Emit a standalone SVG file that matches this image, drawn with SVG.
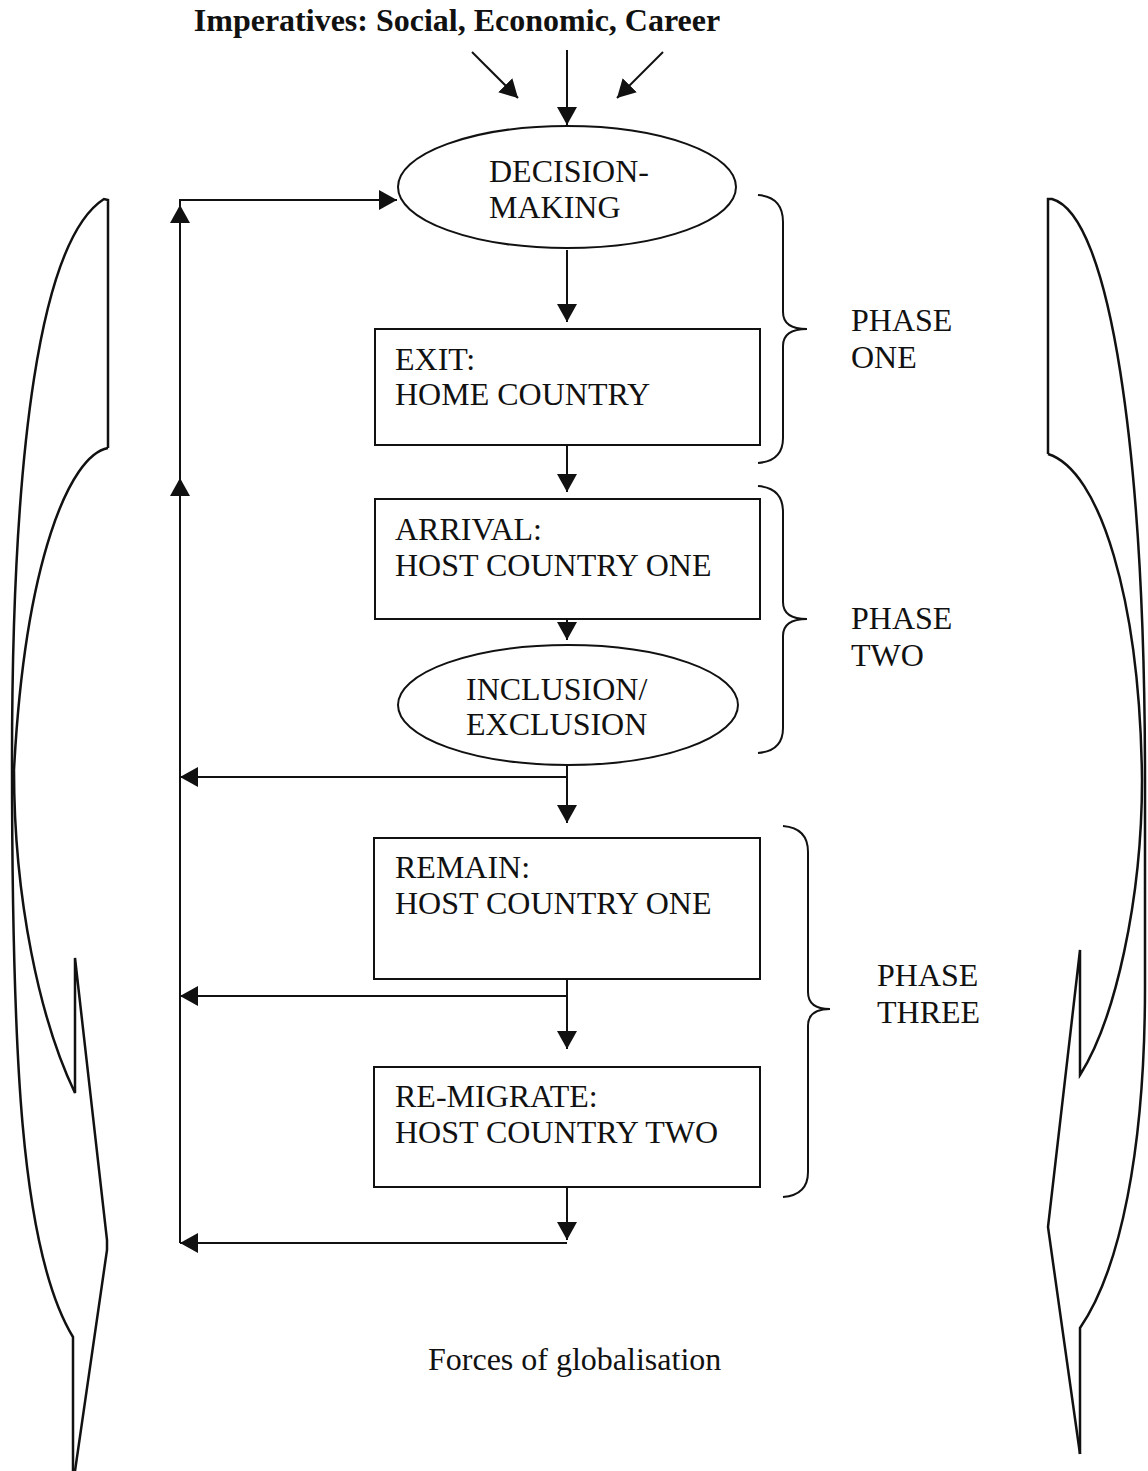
<svg xmlns="http://www.w3.org/2000/svg" width="1148" height="1471" viewBox="0 0 1148 1471">
<defs>
<marker id="ah" viewBox="0 0 18 20" refX="18" refY="10" markerWidth="18" markerHeight="20" markerUnits="userSpaceOnUse" orient="auto">
<path d="M0,0 L18,10 L0,20 z" fill="#111"/>
</marker>
<style>
.t{font-family:"Liberation Serif","Times New Roman",serif;font-size:32px;fill:#111}
.tb{font-family:"Liberation Serif","Times New Roman",serif;font-size:32px;font-weight:bold;fill:#111}
.box{fill:#fff;stroke:#111;stroke-width:2}
.ln{fill:none;stroke:#111;stroke-width:2}
.arr{fill:none;stroke:#111;stroke-width:2;marker-end:url(#ah)}
.side{fill:none;stroke:#111;stroke-width:2.5;stroke-linejoin:miter}
.br{fill:none;stroke:#111;stroke-width:2}
</style>
</defs>
<rect width="1148" height="1471" fill="#fff"/>

<g id="side-left">
<path class="side" d="M108,448 L108,200 L104,199 C40,240 12,450 12,760 C12,1050 20,1250 73,1337 L73,1471"/>
<path class="side" d="M108,448 C70,455 25,560 14,770 C14,900 40,1020 75,1093 L75,958 L107,1240 L107,1250 L75,1471"/>
</g>
<g id="side-right">
<path class="side" d="M1048,454 L1048,199 L1052,199 C1110,215 1145,450 1145,780 L1145,987 C1145,1150 1120,1270 1080,1328 L1080,1454"/>
<path class="side" d="M1048,454 C1100,470 1140,600 1142,780 C1142,900 1115,1020 1080,1075 L1080,950 L1048,1227 L1080,1454"/>
</g>

<g id="title">
<text class="tb" x="457" y="31" text-anchor="middle">Imperatives: Social, Economic, Career</text>
</g>

<g id="connectors">
<path class="arr" d="M472,52 L518,98"/>
<path class="arr" d="M567,50 L567,125"/>
<path class="arr" d="M663,52 L617,98"/>
<path class="arr" d="M567,250 L567,322"/>
<path class="arr" d="M567,445 L567,492"/>
<path class="arr" d="M567,619 L567,640"/>
<path class="arr" d="M567,765 L567,823"/>
<path class="arr" d="M567,777 L180,777"/>
<path class="arr" d="M567,979 L567,1049"/>
<path class="arr" d="M567,996 L180,996"/>
<path class="arr" d="M567,1187 L567,1240"/>
<path class="arr" d="M567,1243 L180,1243"/>
<path class="arr" d="M180,1243 L180,200 L397,200"/>
<path class="arr" d="M180,500 L180,478"/>
<path class="arr" d="M180,230 L180,205"/>
</g>

<g id="n-decision">
<ellipse class="box" cx="567" cy="187" rx="169" ry="61"/>
<text class="t" x="489" y="182">DECISION-</text>
<text class="t" x="489" y="218">MAKING</text>
</g>
<g id="n-exit">
<rect class="box" x="375" y="329" width="385" height="116"/>
<text class="t" x="395" y="370">EXIT:</text>
<text class="t" x="395" y="405">HOME COUNTRY</text>
</g>
<g id="n-arrival">
<rect class="box" x="375" y="499" width="385" height="120"/>
<text class="t" x="395" y="540">ARRIVAL:</text>
<text class="t" x="395" y="576">HOST COUNTRY ONE</text>
</g>
<g id="n-inclusion">
<ellipse class="box" cx="568" cy="705" rx="170" ry="60"/>
<text class="t" x="466" y="700">INCLUSION/</text>
<text class="t" x="466" y="735">EXCLUSION</text>
</g>
<g id="n-remain">
<rect class="box" x="374" y="838" width="386" height="141"/>
<text class="t" x="395" y="878">REMAIN:</text>
<text class="t" x="395" y="914">HOST COUNTRY ONE</text>
</g>
<g id="n-remigrate">
<rect class="box" x="374" y="1067" width="386" height="120"/>
<text class="t" x="395" y="1107">RE-MIGRATE:</text>
<text class="t" x="395" y="1143">HOST COUNTRY TWO</text>
</g>

<g id="phase-one">
<path class="br" d="M758,195 Q783,197 783,222 L783,312 Q783,329 807,329 Q783,329 783,346 L783,438 Q783,461 758,463"/>
<text class="t" x="851" y="331">PHASE</text>
<text class="t" x="851" y="368">ONE</text>
</g>
<g id="phase-two">
<path class="br" d="M758,486 Q783,488 783,512 L783,602 Q783,619 807,619 Q783,619 783,636 L783,728 Q783,751 758,753"/>
<text class="t" x="851" y="629">PHASE</text>
<text class="t" x="851" y="666">TWO</text>
</g>
<g id="phase-three">
<path class="br" d="M783,826 Q808,828 808,852 L808,992 Q808,1009 830,1009 Q808,1009 808,1026 L808,1172 Q808,1195 783,1197"/>
<text class="t" x="877" y="986">PHASE</text>
<text class="t" x="877" y="1023">THREE</text>
</g>

<g id="caption">
<text class="t" x="428" y="1370">Forces of globalisation</text>
</g>
</svg>
